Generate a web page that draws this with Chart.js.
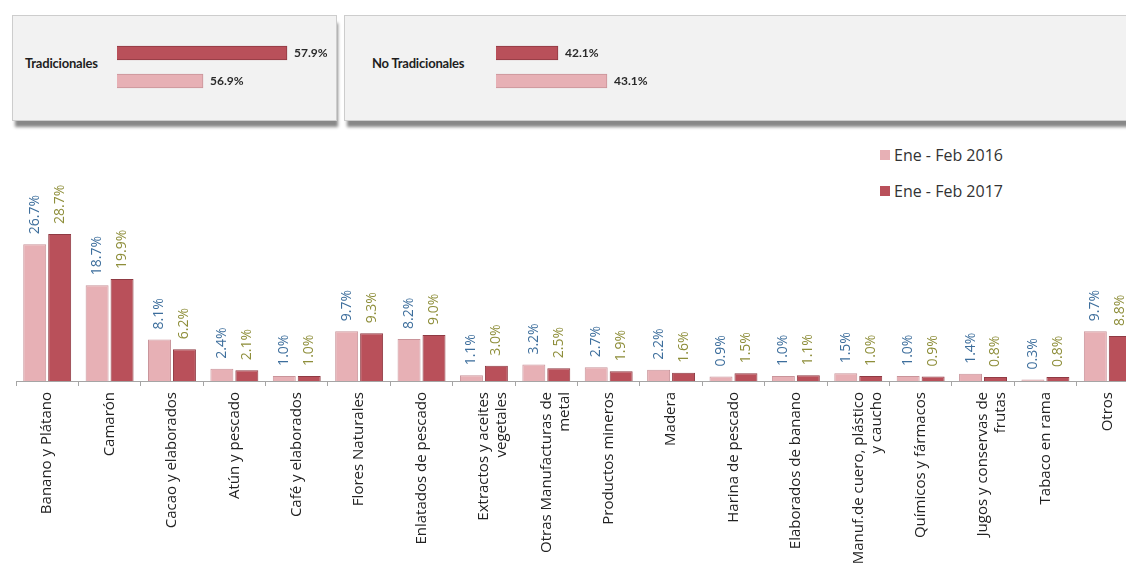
<!DOCTYPE html>
<html lang="es">
<head>
<meta charset="utf-8">
<title>Exportaciones por producto</title>
<script src="https://cdn.jsdelivr.net/npm/chart.js@4.4.0/dist/chart.umd.min.js"></script>
<style>
  html, body { margin: 0; padding: 0; background: #ffffff; }
  body { width: 1126px; height: 588px; overflow: hidden; position: relative; font-family: "Open Sans", sans-serif; }
  .panel {
    position: absolute; top: 15px; height: 104px;
    background: #f2f2f2; border: 1px solid #cdcdcd;
    box-shadow: 2px 7px 3px -1px #888888;
  }
  .panel-title {
    position: absolute; top: 63px; transform: translateY(-50%);
    font: bold 13px Lato, sans-serif; color: #1e1e1e; letter-spacing: -0.2px;
  }
  .box { position: absolute; }
  #legend { position: absolute; left: 880px; top: 137px; font: 16px "Open Sans", sans-serif; color: #333; }
  #legend div { height: 36px; display: flex; align-items: center; }
  #legend span.sw { display: inline-block; width: 10px; height: 10px; margin-right: 4px; }
</style>
</head>
<body>

<div class="panel" style="left:12px; width:323px;"></div>
<div class="panel" style="left:344px; width:800px;"></div>
<div class="panel-title" style="left:25px;">Tradicionales</div>
<div class="panel-title" style="left:372px;">No Tradicionales</div>

<div class="box" style="left:117px; top:39px; width:210px; height:56px;"><canvas id="tradChart"></canvas></div>
<div class="box" style="left:496px; top:39px; width:210px; height:56px;"><canvas id="noTradChart"></canvas></div>

<div id="legend"></div>

<div class="box" style="left:0; top:140px; width:1160px; height:448px;"><canvas id="mainChart"></canvas></div>

<script>
/* ---------- data ---------- */
const categories = [
  "Banano y Plátano", "Camarón", "Cacao y elaborados", "Atún y pescado",
  "Café y elaborados", "Flores Naturales", "Enlatados de pescado",
  ["Extractos y aceites", "vegetales"], ["Otras Manufacturas de", "metal"],
  "Productos mineros", "Madera", "Harina de pescado", "Elaborados de banano",
  ["Manuf.de cuero, plástico", "y caucho"], "Químicos y fármacos",
  ["Jugos y conservas de", "frutas"], "Tabaco en rama", "Otros"
];
const seriesNames = ["Ene - Feb 2016", "Ene - Feb 2017"];
const share2016 = [26.7, 18.7, 8.1, 2.4, 1.0, 9.7, 8.2, 1.1, 3.2, 2.7, 2.2, 0.9, 1.0, 1.5, 1.0, 1.4, 0.3, 9.7];
const share2017 = [28.7, 19.9, 6.2, 2.1, 1.0, 9.3, 9.0, 3.0, 2.5, 1.9, 1.6, 1.5, 1.1, 1.0, 0.9, 0.8, 0.8, 8.8];

// top panels: [2017, 2016]
const groupYears = ["Ene - Feb 2017", "Ene - Feb 2016"];
const tradicionales = [57.9, 56.9];
const noTradicionales = [42.1, 43.1];

/* ---------- colours ---------- */
const LIGHT = "#e7b0b5", LIGHT_EDGE = "#c9949a";
const DARK = "#b9505a", DARK_EDGE = "#8f3a43";
const BLUE_TXT = "#3d6e9c", OLIVE_TXT = "#8e8e3a";

/* ---------- legend (html) ---------- */
const legendEl = document.getElementById("legend");
[[seriesNames[0], LIGHT], [seriesNames[1], DARK]].forEach(([name, col]) => {
  const row = document.createElement("div");
  row.innerHTML = '<span class="sw" style="background:' + col + '"></span>' + name;
  legendEl.appendChild(row);
});

/* ---------- value labels ---------- */
const columnLabels = {
  id: "columnLabels",
  afterDatasetsDraw(chart) {
    const ctx = chart.ctx;
    chart.data.datasets.forEach((ds, i) => {
      chart.getDatasetMeta(i).data.forEach((bar, j) => {
        ctx.save();
        ctx.translate(bar.x, bar.y - 10);
        ctx.rotate(-Math.PI / 2);
        ctx.font = '14px "Open Sans"';
        ctx.fillStyle = ds.labelColor;
        ctx.textAlign = "left";
        ctx.textBaseline = "middle";
        ctx.fillText(ds.data[j].toFixed(1) + "%", 0, 0);
        ctx.restore();
      });
    });
  }
};

const sideLabels = {
  id: "sideLabels",
  afterDatasetsDraw(chart) {
    const ctx = chart.ctx;
    const ds = chart.data.datasets[0];
    chart.getDatasetMeta(0).data.forEach((bar, j) => {
      ctx.save();
      ctx.font = 'bold 12px Lato';
      ctx.fillStyle = "#2a2a2a";
      ctx.textAlign = "left";
      ctx.textBaseline = "middle";
      ctx.fillText(ds.data[j].toFixed(1) + "%", bar.x + 7, bar.y);
      ctx.restore();
    });
  }
};

/* ---------- top panel charts ---------- */
function panelChart(id, values, minVal, pxPerUnit) {
  return new Chart(document.getElementById(id), {
    type: "bar",
    data: {
      labels: groupYears,
      datasets: [{
        data: values,
        backgroundColor: [DARK, LIGHT],
        borderColor: [DARK_EDGE, LIGHT_EDGE],
        borderWidth: 1,
        barThickness: 14
      }]
    },
    options: {
      indexAxis: "y",
      responsive: true,
      maintainAspectRatio: false,
      animation: false,
      layout: { padding: 0 },
      plugins: { legend: { display: false }, tooltip: { enabled: false } },
      scales: {
        x: { display: false, min: minVal, max: minVal + 210 / pxPerUnit },
        y: { display: false }
      }
    },
    plugins: [sideLabels]
  });
}
panelChart("tradChart", tradicionales, 55.876, 84);
panelChart("noTradChart", noTradicionales, 40.835, 49);

/* ---------- main column chart ---------- */
new Chart(document.getElementById("mainChart"), {
  type: "bar",
  data: {
    labels: categories,
    datasets: [
      {
        label: seriesNames[0], data: share2016,
        backgroundColor: LIGHT, borderColor: LIGHT_EDGE, borderWidth: 1,
        labelColor: BLUE_TXT
      },
      {
        label: seriesNames[1], data: share2017,
        backgroundColor: DARK, borderColor: DARK_EDGE, borderWidth: 1,
        labelColor: OLIVE_TXT
      }
    ]
  },
  options: {
    responsive: true,
    maintainAspectRatio: false,
    animation: false,
    categoryPercentage: 0.8,
    barPercentage: 0.92,
    layout: { padding: { left: 16, right: 21, top: 36, bottom: 0 } },
    plugins: { legend: { display: false }, tooltip: { enabled: false } },
    scales: {
      y: { display: false, min: 0, max: 40 },
      x: {
        afterFit: (scale) => { scale.height = 207; },
        border: { display: true, color: "#a5a5a5", width: 1 },
        grid: { display: true, drawOnChartArea: false, drawTicks: true, tickLength: 5, color: "#a5a5a5", offset: true },
        ticks: {
          minRotation: 90, maxRotation: 90, autoSkip: false, padding: 6,
          color: "#222222",
          font: { family: "Open Sans", size: 15 }
        }
      }
    }
  },
  plugins: [columnLabels]
});
</script>
</body>
</html>
